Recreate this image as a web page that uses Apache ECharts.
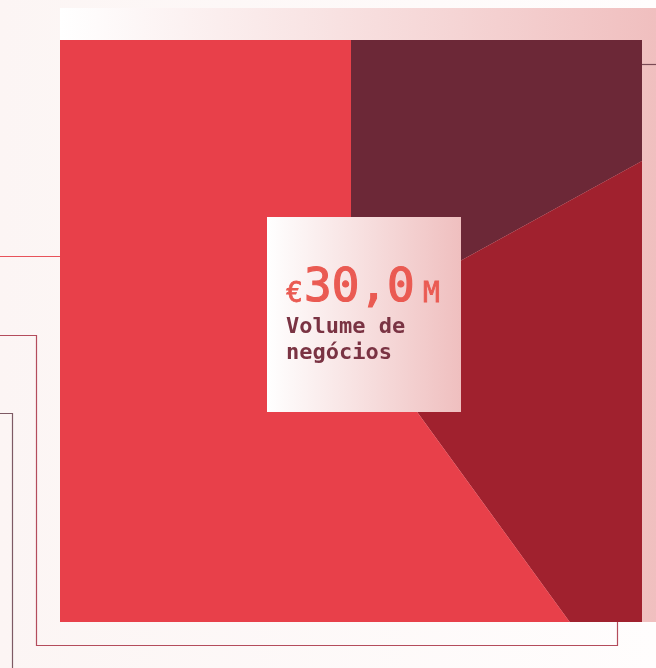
<!DOCTYPE html>
<html>
<head>
<meta charset="utf-8">
<script src="https://cdn.jsdelivr.net/npm/echarts@6/dist/echarts.min.js"></script>
<style>
  html, body { margin: 0; padding: 0; }
  body { width: 656px; height: 668px; position: relative; overflow: hidden; }
  #bg { position: absolute; left: 0; top: 0; width: 656px; height: 668px; }
  #pie { position: absolute; left: 60px; top: 40px; width: 582px; height: 582px; }
</style>
</head>
<body>
<div id="bg"></div>
<div id="pie"></div>
<script>
// segmentos do volume de negócios (milhões de euros)
const segmentos = ['Segmento A', 'Segmento B', 'Segmento C'];
const valores = [5.1, 6.9, 18.0];
const tituloLinha1 = 'Volume de';
const tituloLinha2 = 'negócios';

const cores = ['#6c2837', '#a0212e', '#e8404a'];
const mono = '"DejaVu Sans Mono", "Liberation Mono", monospace';

// total formatado em pt-PT
let total = valores.reduce((a, b) => a + b, 0);
let totalTxt = total.toFixed(1).replace('.', ',');

// fundo e linhas decorativas
let bgChart = echarts.init(document.getElementById('bg'));
bgChart.setOption({
  animation: false,
  graphic: [
    {
      type: 'rect', silent: true, z: 0,
      shape: { x: 0, y: 0, width: 656, height: 668 },
      style: {
        fill: {
          type: 'linear', x: 0, y: 0, x2: 1, y2: 0,
          colorStops: [{ offset: 0, color: '#fcf5f4' }, { offset: 1, color: '#fffdfd' }]
        }
      }
    },
    {
      type: 'rect', silent: true, z: 1,
      shape: { x: 60, y: 8, width: 596, height: 614 },
      style: {
        fill: {
          type: 'linear', x: 0, y: 0, x2: 1, y2: 0,
          colorStops: [{ offset: 0, color: '#ffffff' }, { offset: 1, color: '#f0bfbf' }]
        }
      }
    },
    {
      type: 'polyline', silent: true, z: 2,
      shape: { points: [[0, 256.5], [60, 256.5]] },
      style: { stroke: '#e8525a', lineWidth: 1, fill: null }
    },
    {
      type: 'polyline', silent: true, z: 2,
      shape: { points: [[0, 335.5], [36.5, 335.5], [36.5, 645.5], [617.5, 645.5], [617.5, 622]] },
      style: { stroke: '#b44c5c', lineWidth: 1.2, fill: null }
    },
    {
      type: 'polyline', silent: true, z: 2,
      shape: { points: [[0, 413.5], [12.5, 413.5], [12.5, 668]] },
      style: { stroke: '#7e5a64', lineWidth: 1.2, fill: null }
    },
    {
      type: 'polyline', silent: true, z: 2,
      shape: { points: [[642, 64.5], [656, 64.5]] },
      style: { stroke: '#7a4a55', lineWidth: 1.2, fill: null }
    }
  ]
});

// gráfico circular recortado pelo quadrado
let pieChart = echarts.init(document.getElementById('pie'));
pieChart.setOption({
  animation: false,
  series: [
    {
      type: 'pie',
      silent: true,
      center: [291, 281],
      radius: [0, 440],
      startAngle: 90,
      clockwise: true,
      label: { show: false },
      labelLine: { show: false },
      itemStyle: { borderWidth: 0 },
      data: segmentos.map((n, i) => ({ name: n, value: valores[i], itemStyle: { color: cores[i] } }))
    }
  ],
  graphic: [
    {
      type: 'rect', silent: true, z: 10,
      shape: { x: 207, y: 177, width: 194, height: 195 },
      style: {
        fill: {
          type: 'linear', x: 0, y: 0, x2: 1, y2: 0,
          colorStops: [{ offset: 0, color: '#ffffff' }, { offset: 1, color: '#efbfbf' }]
        }
      }
    },
    {
      type: 'text', silent: true, z: 11,
      style: { text: '€', x: 226, y: 254.5, verticalAlign: 'middle', font: '28px ' + mono, fill: '#ea5a52', stroke: '#ea5a52', lineWidth: 0.8 }
    },
    {
      type: 'text', silent: true, z: 11,
      style: { text: totalTxt, x: 244, y: 249.5, verticalAlign: 'middle', font: '46px ' + mono, fill: '#ea5a52', stroke: '#ea5a52', lineWidth: 1.2 }
    },
    {
      type: 'text', silent: true, z: 11,
      style: { text: 'M', x: 363, y: 254.5, verticalAlign: 'middle', font: '28px ' + mono, fill: '#ea5a52', stroke: '#ea5a52', lineWidth: 0.8 }
    },
    {
      type: 'text', silent: true, z: 11,
      style: { text: tituloLinha1, x: 226, y: 287.5, verticalAlign: 'middle', font: 'bold 22px ' + mono, fill: '#7a3343' }
    },
    {
      type: 'text', silent: true, z: 11,
      style: { text: tituloLinha2, x: 226, y: 313.5, verticalAlign: 'middle', font: 'bold 22px ' + mono, fill: '#7a3343' }
    }
  ]
});
</script>
</body>
</html>
